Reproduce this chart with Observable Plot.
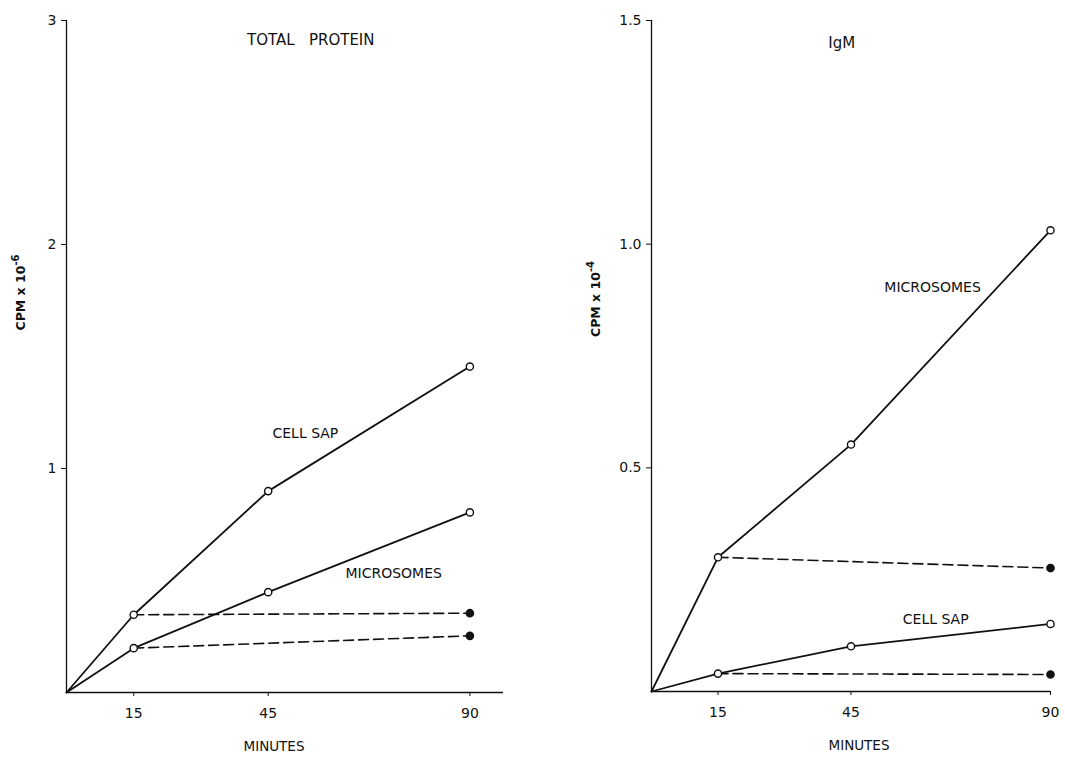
<!DOCTYPE html>
<html><head><meta charset="utf-8">
<script src="https://cdn.jsdelivr.net/npm/d3@7"></script>
<script src="https://cdn.jsdelivr.net/npm/@observablehq/plot@0.6"></script>
<style>
body{margin:0;background:#fff}
#wrap{position:relative;width:1065px;height:758px;background:#fff}
#left,#right{position:absolute;top:0}
#left{left:0}
#right{left:532px}
</style>
</head><body><div id="wrap"><div id="left"></div><div id="right"></div></div>
<script>
// Time points (minutes)
const minutes = [0, 15, 45, 90];
const chaseMinutes = [15, 90];
const xTicks = [15, 45, 90];

// TOTAL PROTEIN (CPM x 10^-6)
const tpCellSap = [0, 0.347, 0.899, 1.455];
const tpMicrosomes = [0, 0.198, 0.448, 0.804];
const tpCellSapChase = [0.347, 0.354];
const tpMicrosomesChase = [0.198, 0.253];
const tpYTicks = [1, 2, 3];

// IgM (CPM x 10^-4)
const igmMicrosomes = [0, 0.300, 0.552, 1.031];
const igmCellSap = [0, 0.040, 0.101, 0.151];
const igmMicrosomesChase = [0.300, 0.276];
const igmCellSapChase = [0.040, 0.038];
const igmYTicks = [0.5, 1.0, 1.5];

// Titles: text, minute, value
const tpTitle = [{text: "TOTAL   PROTEIN", minute: 54.5, value: 2.91}];
const igmTitle = [{text: "IgM", minute: 42.9, value: 1.45}];
// Series labels: text, minute, value
const tpLabels = [
  {text: "CELL SAP", minute: 53.3, value: 1.156},
  {text: "MICROSOMES", minute: 73, value: 0.531}
];
const igmLabels = [
  {text: "MICROSOMES", minute: 63.4, value: 0.904},
  {text: "CELL SAP", minute: 64.1, value: 0.161}
];

const rows = (xs, ys) => xs.map((m, i) => ({minute: m, value: ys[i]}));
const font = "'DejaVu Sans', 'Liberation Sans', sans-serif";

function panel({width, marginLeft, marginRight, marginBottom, xMax, yMax, yTicks, yFormat,
                solid, dashed, title, labels, yLabel, yExp, yLabelDx, yLabelDy, xLabelDx}) {
  const marks = [
    Plot.ruleX([0], {stroke: "#111", strokeWidth: 1.3}),
    Plot.ruleY([0], {stroke: "#111", strokeWidth: 1.3}),
    Plot.axisY(yTicks, {tickSize: 5, tickPadding: 5, tickFormat: yFormat, label: null, fontSize: 14}),
    Plot.axisX(xTicks, {tickSize: 4, tickPadding: 12, label: null, fontSize: 14}),
  ];
  for (const d of dashed) {
    marks.push(Plot.line(d, {x: "minute", y: "value", stroke: "#111", strokeWidth: 1.6, strokeDasharray: "10,5"}));
  }
  for (const s of solid) {
    marks.push(Plot.line(s, {x: "minute", y: "value", stroke: "#111", strokeWidth: 1.8}));
  }
  for (const d of dashed) {
    marks.push(Plot.dot(d.filter(p => p.minute === 90), {x: "minute", y: "value", r: 3.6, fill: "#111", stroke: "#111"}));
  }
  for (const s of solid) {
    marks.push(Plot.dot(s.filter(p => p.minute > 0), {x: "minute", y: "value", r: 3.6, fill: "white", stroke: "#111", strokeWidth: 1.4}));
  }
  marks.push(Plot.text(title, {x: "minute", y: "value", text: "text", fontSize: 15, fill: "#111", letterSpacing: "0.8px"}));
  marks.push(Plot.text(labels, {x: "minute", y: "value", text: "text", fontSize: 14, fill: "#111", letterSpacing: "0.3px"}));
  marks.push(Plot.text([yLabel], {frameAnchor: "left", textAnchor: "middle", dx: yLabelDx, dy: yLabelDy, rotate: -90, fontSize: 12.5, fontWeight: "bold", fill: "#111", className: "ylab"}));
  marks.push(Plot.text(["MINUTES"], {frameAnchor: "bottom", dx: xLabelDx, dy: 58, fontSize: 13.5, fill: "#111", letterSpacing: "0.5px"}));
  const svg = Plot.plot({
    width, height: 758,
    marginLeft, marginRight, marginTop: 20, marginBottom,
    x: {domain: [0, xMax]},
    y: {domain: [0, yMax]},
    style: {fontFamily: font, background: "white", color: "#111", overflow: "visible"},
    marks
  });
  // add the exponent as a real superscript
  d3.select(svg).selectAll("text").filter(function() { return this.textContent === yLabel; })
    .each(function() {
      d3.select(this).append("tspan").attr("dy", "-0.55em").attr("font-size", "10px").text(yExp);
    });
  return svg;
}

document.getElementById("left").appendChild(panel({
  width: 532, marginLeft: 66, marginRight: 29, marginBottom: 66,
  xMax: 97.5, yMax: 3, yTicks: tpYTicks, yFormat: d3.format("d"),
  solid: [rows(minutes, tpCellSap), rows(minutes, tpMicrosomes)],
  dashed: [rows(chaseMinutes, tpCellSapChase), rows(chaseMinutes, tpMicrosomesChase)],
  title: tpTitle, labels: tpLabels, yLabel: "CPM x 10", yExp: "-6",
  yLabelDx: -46, yLabelDy: -64, xLabelDx: -11
}));

document.getElementById("right").appendChild(panel({
  width: 533, marginLeft: 119, marginRight: 15, marginBottom: 67,
  xMax: 90, yMax: 1.5, yTicks: igmYTicks, yFormat: d3.format(".1f"),
  solid: [rows(minutes, igmMicrosomes), rows(minutes, igmCellSap)],
  dashed: [rows(chaseMinutes, igmMicrosomesChase), rows(chaseMinutes, igmCellSapChase)],
  title: igmTitle, labels: igmLabels, yLabel: "CPM x 10", yExp: "-4",
  yLabelDx: -56, yLabelDy: -57, xLabelDx: 8
}));
</script>
</body></html>
